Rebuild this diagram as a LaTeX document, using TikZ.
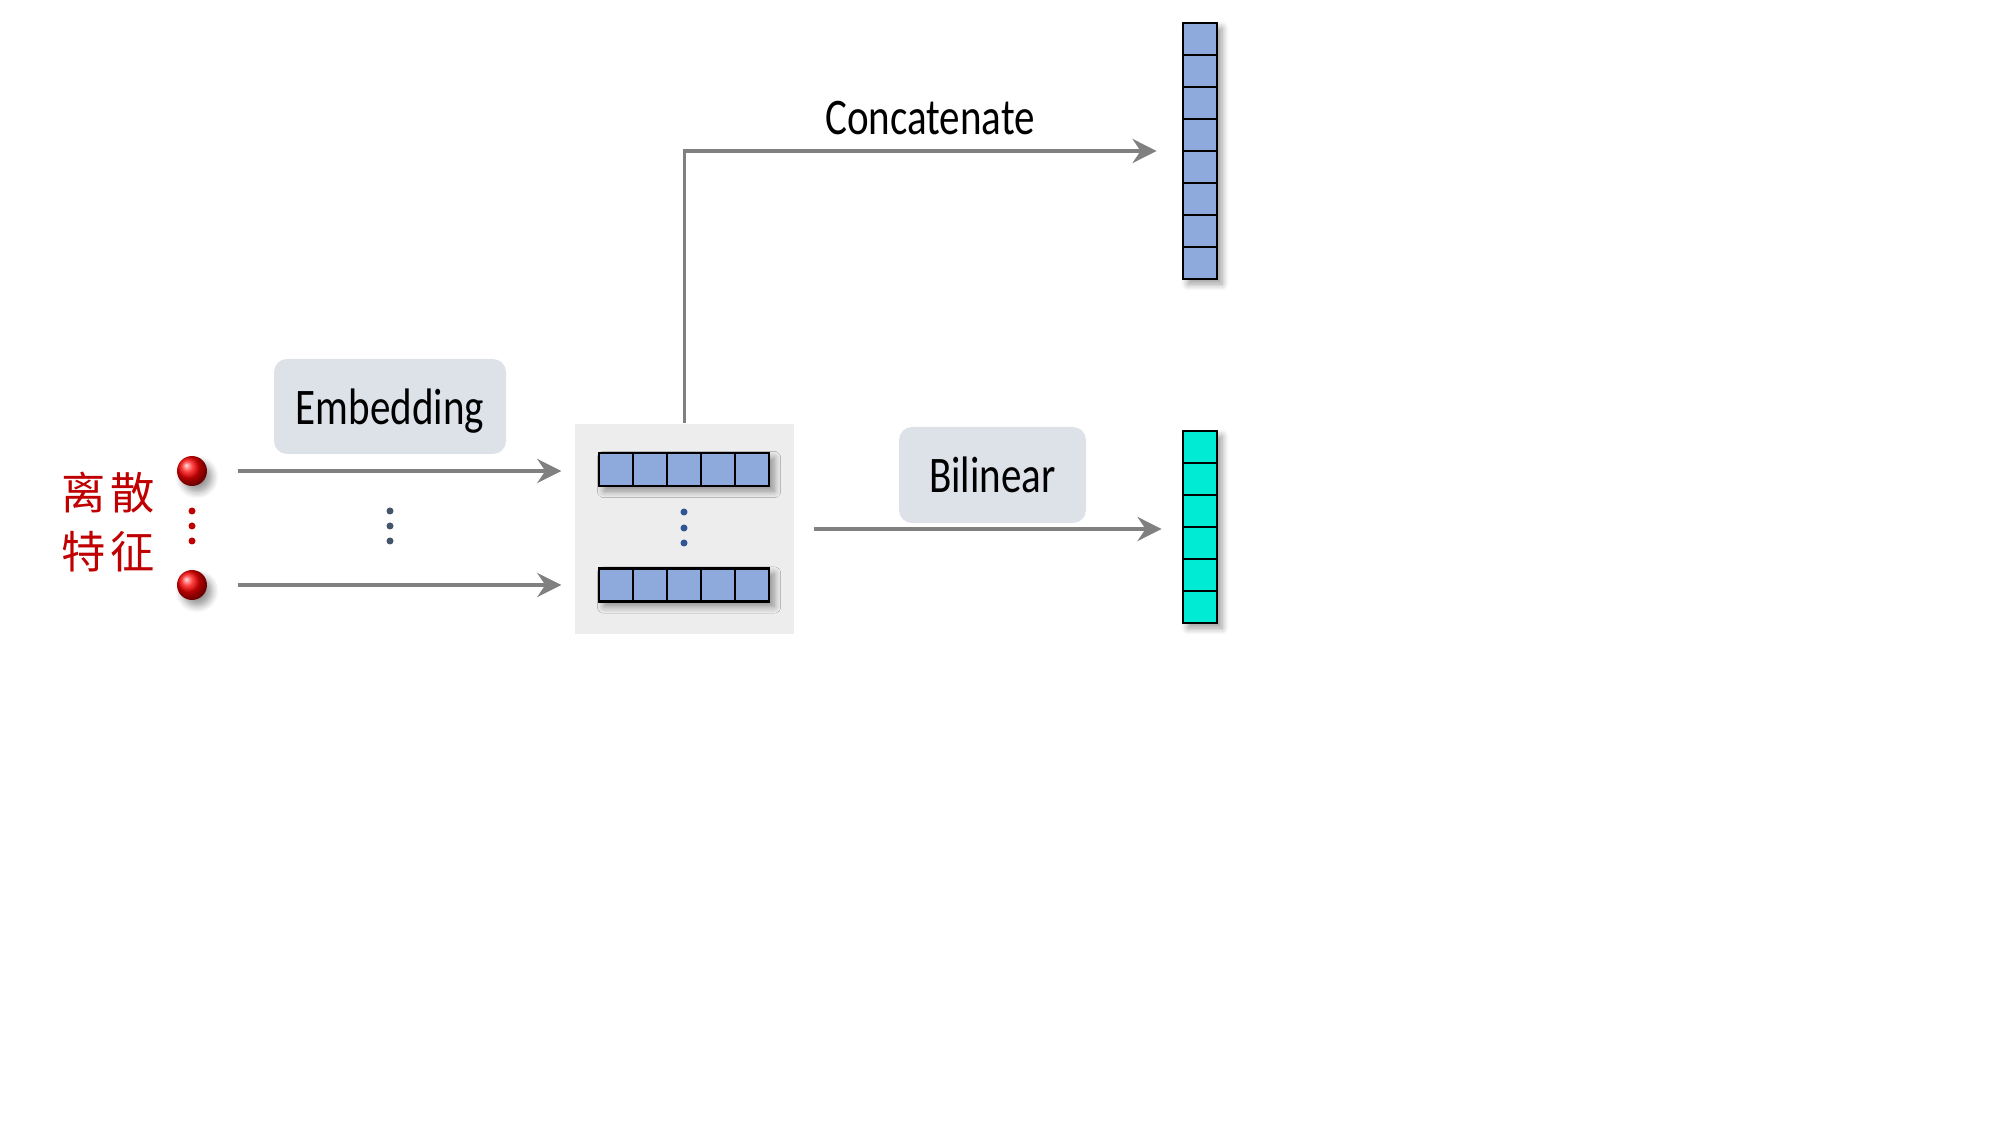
\documentclass[tikz,border=0pt]{standalone}
\usepackage{fontspec}
\setmainfont{Carlito}[FakeStretch=0.8]
\newfontfamily\cjk{Noto Sans CJK SC}
\usetikzlibrary{arrows.meta,shadows.blur}
\definecolor{tagfill}{RGB}{221,225,232}
\definecolor{panelfill}{RGB}{237,237,237}
\definecolor{cellblue}{RGB}{142,169,219}
\definecolor{cellcyan}{RGB}{0,235,212}
\definecolor{featred}{RGB}{192,0,0}
\definecolor{dotslate}{RGB}{68,84,106}
\definecolor{dotblue}{RGB}{47,85,151}
\definecolor{flowgray}{RGB}{128,128,128}
\tikzset{%
    flow/.style={draw=flowgray, line width=1.1pt,
        -{Stealth[length=2.4mm,width=2.4mm,inset=0.8mm]}},
    tag/.style={fill=tagfill, rounded corners=1.3mm, text depth=0pt,
        font=\fontsize{14.6}{17}\selectfont},
    vec/.style={draw, line width=0.8pt,
        blur shadow={shadow xshift=0.5mm, shadow yshift=-0.5mm, shadow blur steps=6}},
    cell/.style={draw, line width=0.8pt},
    feat/.style={circle, minimum size=3mm, inner sep=0pt, ball color=red,
        blur shadow={shadow xshift=0.5mm, shadow yshift=-0.6mm, shadow blur steps=6}}
}
\begin{document}
\begin{tikzpicture}[x=0.1mm,y=-0.1mm]
    \useasboundingbox (0,0) rectangle (2000,1125);
    % discrete features
    \node[feat] (f1) at (192,471) {};
    \node[feat] (f2) at (192,585) {};
    \foreach \y in {511,526,541}
    {
    \fill[featred] (192,\y) circle (0.35mm);
    }
    \node[text=featred, font=\cjk\fontsize{12.6}{14}\selectfont] (lab1) at (108,492.5) {离\hspace{1.3pt}散};
    \node[text=featred, font=\cjk\fontsize{12.6}{14}\selectfont] (lab2) at (108,552) {特\hspace{1.3pt}征};
    \node[tag, minimum width=23.2mm, minimum height=9.5mm] (emb) at (390,406.5) {Embedding};
    \foreach \y in {511,526,541}
    {
    \fill[dotslate] (390,\y) circle (0.35mm);
    }
    % embedding panel
    \node[fill=panelfill, minimum width=21.9mm, minimum height=21mm, inner sep=0pt] (panel) at (684.5,529) {};
    \node[vec, minimum width=17mm, minimum height=3.3mm, inner sep=0pt] (row1) at (684,469.5) {};
    \node[vec, minimum width=17mm, minimum height=3.3mm, inner sep=0pt] (row2) at (684,585) {};
    \foreach \i in {0,...,4}
    {
    \draw[cell, fill=cellblue] (599+34*\i,453) rectangle ++(34,33);
    \draw[cell, fill=cellblue] (599+34*\i,568.5) rectangle ++(34,33);
    }
    \foreach \y in {512,528,543}
    {
    \fill[dotblue] (684,\y) circle (0.35mm);
    }
    \draw[flow, shorten <=3mm, shorten >=1.3mm] (f1) -- (f1 -| panel.west);
    \draw[flow, shorten <=3mm, shorten >=1.3mm] (f2) -- (f2 -| panel.west);
    % outputs
    \node[vec, minimum width=3.4mm, minimum height=25.6mm, inner sep=0pt] (cat) at (1200,151) {};
    \foreach \j in {0,...,7}
    {
    \draw[cell, fill=cellblue] (1183,23+32*\j) rectangle ++(34,32);
    }
    \node[vec, minimum width=3.4mm, minimum height=19.2mm, inner sep=0pt] (bil) at (1200,527) {};
    \foreach \j in {0,...,5}
    {
    \draw[cell, fill=cellcyan] (1183,431+32*\j) rectangle ++(34,32);
    }
    \draw[flow, shorten >=2.5mm] (panel.north) |- (cat.west);
    \node[anchor=base, font=\fontsize{14.6}{17}\selectfont] (catlab) at (930,135) {Concatenate};
    \node[tag, minimum width=18.7mm, minimum height=9.6mm] (bilin) at (992.5,475) {Bilinear};
    \draw[flow, shorten <=1.9mm, shorten >=2mm] (panel.east) -- (panel.east -| bil.west);
\end{tikzpicture}
\end{document}
